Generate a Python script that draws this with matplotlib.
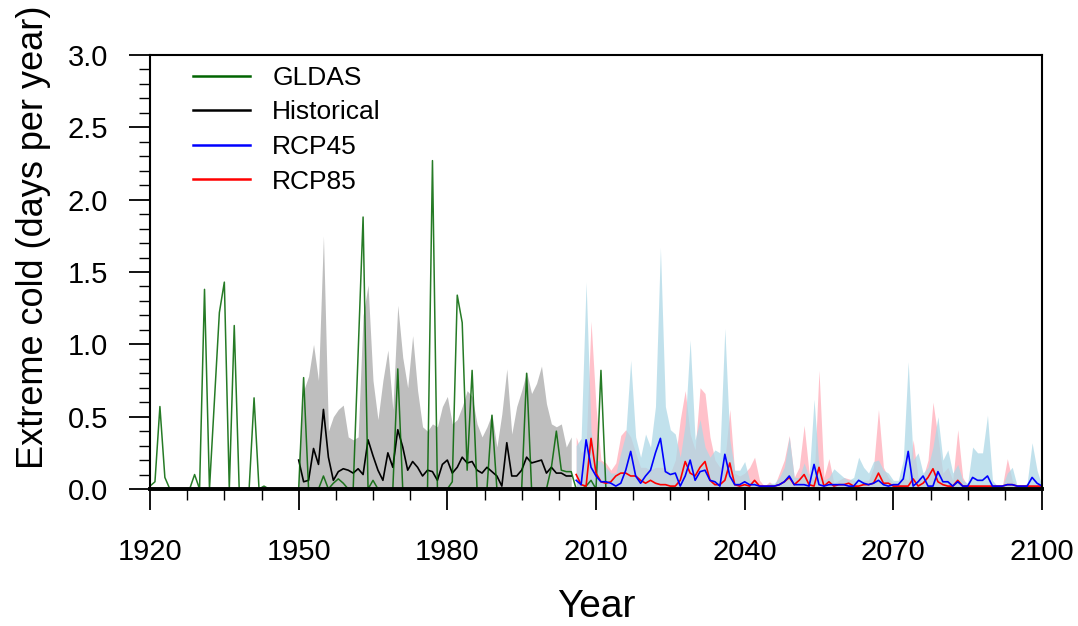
import numpy as np
import matplotlib
matplotlib.use("Agg")
import matplotlib.pyplot as plt
from matplotlib.ticker import MultipleLocator, FixedLocator

plt.rcParams['font.family'] = ['Liberation Sans', 'DejaVu Sans']

# ---------------- data ----------------
gldas_years = list(range(1920, 2013))
gldas = [0.02, 0.05, 0.57, 0.08, 0.0, 0.0, 0.0, 0.0, 0.0, 0.10,      # 1920-1929
         0.0, 1.38, 0.0, 0.61, 1.22, 1.43, 0.0, 1.13, 0.0, 0.0,       # 1930-1939
         0.0, 0.63, 0.0, 0.02, 0.0, 0.0, 0.0, 0.0, 0.0, 0.0,          # 1940-1949
         0.0, 0.77, 0.0, 0.0, 0.0, 0.09, 0.0, 0.04, 0.07, 0.04,       # 1950-1959
         0.0, 0.0, 0.94, 1.88, 0.0, 0.06, 0.0, 0.0, 0.0, 0.0,         # 1960-1969
         0.83, 0.0, 0.0, 0.0, 0.0, 0.0, 0.0, 2.27, 0.0, 0.0,          # 1970-1979
         0.0, 0.05, 1.34, 1.15, 0.13, 0.82, 0.0, 0.0, 0.0, 0.51,      # 1980-1989
         0.0, 0.0, 0.0, 0.0, 0.0, 0.0, 0.80, 0.0, 0.0, 0.0,           # 1990-1999
         0.0, 0.15, 0.40, 0.13, 0.12, 0.12, 0.0, 0.0, 0.02, 0.06,     # 2000-2009
         0.0, 0.82, 0.0]                                              # 2010-2012

hist_years = list(range(1950, 2006))
hist_mean = [0.20, 0.05, 0.06, 0.28, 0.17, 0.55, 0.22, 0.06, 0.12, 0.14,
             0.13, 0.11, 0.14, 0.10, 0.34, 0.23, 0.13, 0.06, 0.25, 0.15,
             0.41, 0.29, 0.13, 0.19, 0.15, 0.09, 0.13, 0.12, 0.06, 0.17,
             0.20, 0.11, 0.15, 0.22, 0.18, 0.19, 0.13, 0.11, 0.15, 0.12,
             0.09, 0.02, 0.32, 0.09, 0.09, 0.13, 0.22, 0.18, 0.19, 0.20,
             0.11, 0.15, 0.11, 0.11, 0.09, 0.09]
hist_max = [0.20, 0.68, 0.78, 1.00, 0.75, 1.75, 0.40, 0.50, 0.55, 0.58,
            0.36, 0.34, 0.36, 1.20, 1.41, 0.75, 0.48, 0.75, 0.96, 0.55,
            1.27, 0.91, 0.70, 1.06, 0.68, 0.43, 0.40, 0.45, 0.43, 0.57,
            0.64, 0.45, 0.48, 0.57, 0.68, 0.64, 0.45, 0.36, 0.43, 0.52,
            0.29, 0.52, 0.83, 0.38, 0.57, 0.68, 0.81, 0.66, 0.73, 0.85,
            0.59, 0.45, 0.43, 0.45, 0.29, 0.36]

rcp_years = list(range(2006, 2101))
rcp45_mean = [0.06, 0.03, 0.34, 0.15,                                  # 2006-2009
              0.09, 0.05, 0.05, 0.04, 0.02, 0.04, 0.13, 0.26, 0.09, 0.04,
              0.09, 0.13, 0.25, 0.35, 0.12, 0.10, 0.11, 0.02, 0.09, 0.20,
              0.06, 0.12, 0.13, 0.06, 0.05, 0.02, 0.24, 0.09, 0.03, 0.03,
              0.05, 0.03, 0.03, 0.02, 0.02, 0.02, 0.02, 0.03, 0.05, 0.09,
              0.03, 0.03, 0.03, 0.02, 0.17, 0.03, 0.02, 0.03, 0.03, 0.03,
              0.03, 0.02, 0.02, 0.06, 0.04, 0.03, 0.04, 0.06, 0.03, 0.02,
              0.03, 0.03, 0.07, 0.26, 0.02, 0.05, 0.09, 0.02, 0.02, 0.12,
              0.05, 0.05, 0.02, 0.05, 0.02, 0.02, 0.08, 0.06, 0.06, 0.09,
              0.02, 0.02, 0.02, 0.03, 0.03, 0.02, 0.02, 0.02, 0.08, 0.04,
              0.02]
rcp45_max = [0.30, 0.35, 1.43, 0.40,
             0.20, 0.19, 0.15, 0.11, 0.11, 0.25, 0.38, 0.89, 0.36, 0.22,
             0.38, 0.29, 0.57, 1.67, 0.57, 0.41, 0.38, 0.22, 0.45, 1.03,
             0.34, 0.48, 0.29, 0.22, 0.27, 0.25, 1.11, 0.34, 0.13, 0.13,
             0.19, 0.06, 0.05, 0.02, 0.02, 0.04, 0.04, 0.08, 0.15, 0.36,
             0.08, 0.08, 0.18, 0.08, 0.62, 0.15, 0.06, 0.08, 0.14, 0.11,
             0.08, 0.06, 0.08, 0.22, 0.15, 0.11, 0.19, 0.20, 0.13, 0.11,
             0.06, 0.06, 0.20, 0.88, 0.20, 0.25, 0.11, 0.15, 0.29, 0.50,
             0.20, 0.27, 0.11, 0.17, 0.06, 0.04, 0.29, 0.25, 0.25, 0.51,
             0.06, 0.02, 0.02, 0.11, 0.15, 0.02, 0.02, 0.04, 0.32, 0.13,
             0.02]
rcp85_mean = [0.10, 0.03, 0.02, 0.35,
              0.11, 0.05, 0.04, 0.05, 0.09, 0.11, 0.11, 0.09, 0.09, 0.06,
              0.04, 0.06, 0.04, 0.03, 0.03, 0.02, 0.02, 0.06, 0.19, 0.11,
              0.09, 0.15, 0.19, 0.06, 0.03, 0.03, 0.06, 0.18, 0.03, 0.02,
              0.03, 0.02, 0.06, 0.02, 0.02, 0.02, 0.02, 0.03, 0.05, 0.08,
              0.03, 0.06, 0.10, 0.03, 0.02, 0.15, 0.02, 0.05, 0.02, 0.03,
              0.03, 0.04, 0.02, 0.02, 0.03, 0.03, 0.04, 0.11, 0.04, 0.04,
              0.02, 0.02, 0.02, 0.02, 0.07, 0.02, 0.04, 0.08, 0.14, 0.05,
              0.03, 0.02, 0.02, 0.06, 0.02, 0.02, 0.02, 0.02, 0.02, 0.02,
              0.02, 0.02, 0.02, 0.03, 0.03, 0.02, 0.02, 0.02, 0.02, 0.02,
              0.02]
rcp85_max = [0.36, 0.25, 0.30, 1.16,
             0.57, 0.20, 0.18, 0.13, 0.18, 0.37, 0.41, 0.36, 0.25, 0.15,
             0.15, 0.13, 0.15, 0.15, 0.15, 0.11, 0.20, 0.48, 0.68, 0.38,
             0.27, 0.70, 0.66, 0.36, 0.20, 0.15, 0.20, 0.55, 0.11, 0.09,
             0.11, 0.15, 0.22, 0.06, 0.02, 0.05, 0.02, 0.11, 0.20, 0.37,
             0.08, 0.15, 0.44, 0.11, 0.06, 0.82, 0.08, 0.21, 0.04, 0.06,
             0.08, 0.07, 0.06, 0.04, 0.06, 0.06, 0.15, 0.55, 0.15, 0.08,
             0.04, 0.04, 0.08, 0.06, 0.34, 0.08, 0.08, 0.20, 0.60, 0.36,
             0.11, 0.15, 0.06, 0.41, 0.08, 0.02, 0.02, 0.02, 0.02, 0.02,
             0.02, 0.02, 0.02, 0.21, 0.06, 0.02, 0.02, 0.02, 0.02, 0.02,
             0.02]

x_ticks = [1920, 1950, 1980, 2010, 2040, 2070, 2100]
y_ticks = [0.0, 0.5, 1.0, 1.5, 2.0, 2.5, 3.0]

# ---------------- figure ----------------
fig = plt.figure(figsize=(10.78, 6.26), dpi=100)
ax = fig.add_axes([150/1078, 1-489/626, (1042-150)/1078, (489-55)/626])

ax.fill_between(hist_years, 0, hist_max, color='#bebebe', lw=0, zorder=1)
ax.fill_between(rcp_years, 0, rcp85_max, color='#ffb6c1', alpha=0.85, lw=0, zorder=2)
ax.fill_between(rcp_years, 0, rcp45_max, color='#add8e6', alpha=0.75, lw=0, zorder=3)

ax.plot(hist_years, hist_mean, color='black', lw=1.2, zorder=5, label='Historical')
ax.plot(gldas_years, gldas, color='#006400', lw=1.1, alpha=0.85, zorder=6, label='GLDAS')
ax.plot(rcp_years, rcp85_mean, color='red', lw=1.2, zorder=7, label='RCP85')
ax.plot(rcp_years, rcp45_mean, color='blue', lw=1.2, zorder=8, label='RCP45')

ax.set_xlim(1920, 2100)
ax.set_ylim(0, 3.0)
ax.xaxis.set_major_locator(FixedLocator(x_ticks))
ax.xaxis.set_minor_locator(MultipleLocator(7.5))
ax.yaxis.set_major_locator(FixedLocator(y_ticks))
ax.yaxis.set_minor_locator(MultipleLocator(0.1))
ax.set_xticklabels([str(v) for v in x_ticks])
ax.set_yticklabels([f"{v:.1f}" for v in y_ticks])

ax.tick_params(which='major', direction='out', length=15, width=1.3,
               labelsize=21, colors='black')
ax.tick_params(axis='x', which='major', pad=20)
ax.tick_params(axis='y', which='major', pad=15)
ax.tick_params(which='minor', direction='out', length=8, width=1.0)

for s in ['top', 'left', 'right']:
    ax.spines[s].set_linewidth(1.5)
ax.spines['bottom'].set_linewidth(2.8)
for s in ax.spines.values():
    s.set_zorder(20)

ax.set_xlabel('Year', fontsize=28, labelpad=17)
ax.set_ylabel('Extreme cold (days per year)', fontsize=26)
ax.yaxis.set_label_coords(-0.111, 0.58)

# legend
handles, labels = ax.get_legend_handles_labels()
order = ['GLDAS', 'Historical', 'RCP45', 'RCP85']
hmap = dict(zip(labels, handles))
leg = ax.legend([hmap[k] for k in order], order, loc='upper left',
                bbox_to_anchor=(43/892, 0.975), frameon=False, fontsize=19,
                handlelength=2.15, handletextpad=0.85, labelspacing=0.4,
                borderpad=0, borderaxespad=0)
for line in leg.get_lines():
    line.set_linewidth(1.8)
    line.set_alpha(1.0)

fig.savefig('out.png', dpi=100)
